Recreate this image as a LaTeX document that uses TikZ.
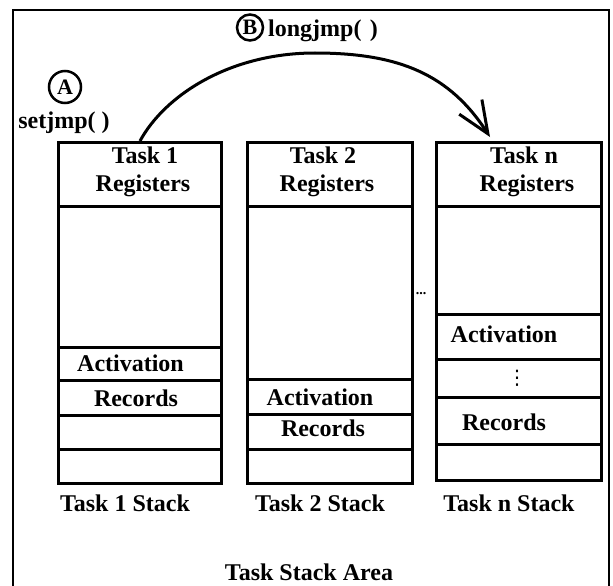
\documentclass[tikz,border=0pt]{standalone}
\usepackage{fontspec}
\setmainfont{Liberation Serif}
\newfontfamily\symfont{DejaVu Sans}
\usetikzlibrary{arrows.meta}
\begin{document}
\begin{tikzpicture}[x=1pt,y=-1pt,
  every node/.style={font=\bfseries\fontsize{24}{28}\selectfont, inner sep=0pt},
  cell/.style={draw, line width=3pt, anchor=north west, minimum width=#1},
  lbl/.style={anchor=base},
  tag/.style={circle, draw, line width=2.5pt, font=\bfseries\fontsize{22}{26}\selectfont},
  jump/.style={line width=3pt, -{Straight Barb[length=32pt,width=27pt,line width=3pt]}}
]
\useasboundingbox (0,0) rectangle (613,586);

% stack area frame
\draw[line width=2.5pt] (13,10) rectangle (609,587);

% Task 1 stack
\node[cell=163pt, minimum height=64pt]  (reg1)  at (57,141) {};
\node[cell=163pt, minimum height=141pt] (free1) at (57,205) {};
\node[cell=163pt, minimum height=33pt]  (act1)  at (57,346) {};
\node[cell=163pt, minimum height=35pt]  (rec1)  at (57,379) {};
\node[cell=163pt, minimum height=34pt]  (e1a)   at (57,414) {};
\node[cell=163pt, minimum height=34pt]  (e1b)   at (57,448) {};

% Task 2 stack
\node[cell=165pt, minimum height=64pt]  (reg2)  at (246,141) {};
\node[cell=165pt, minimum height=173pt] (free2) at (246,205) {};
\node[cell=165pt, minimum height=35pt]  (act2)  at (246,378) {};
\node[cell=165pt, minimum height=35pt]  (rec2)  at (246,413) {};
\node[cell=165pt, minimum height=34pt]  (e2a)   at (246,448) {};

% Task n stack
\node[cell=165pt, minimum height=64pt]  (regn)  at (435,141) {};
\node[cell=165pt, minimum height=108pt] (freen) at (435,205) {};
\node[cell=165pt, minimum height=45pt]  (actn)  at (435,313) {};
\node[cell=165pt, minimum height=38pt]  (dotn)  at (435,358) {};
\node[cell=165pt, minimum height=47pt]  (recn)  at (435,396) {};
\node[cell=165pt, minimum height=36pt]  (ena)   at (435,443) {};

% register headers
\node[lbl] (t1)  at (145,163) {Task 1};
\node[lbl] (r1)  at (143,191) {Registers};
\node[lbl] (t2)  at (323,163) {Task 2};
\node[lbl] (r2)  at (327,191) {Registers};
\node[lbl] (tn)  at (524,163) {Task n};
\node[lbl] (rn)  at (527,191) {Registers};

% activation records
\node[lbl] (a1)  at (130.5,371) {Activation};
\node[lbl] (rc1) at (136,406) {Records};
\node[lbl] (a2)  at (320,405) {Activation};
\node[lbl] (rc2) at (323,436) {Records};
\node[lbl] (an)  at (504,342) {Activation};
\node[font=\symfont\fontsize{20}{24}\selectfont] (vd) at (517,378) {⋮};
\node[lbl] (rcn) at (504,430) {Records};

% gap between stacks
\node[lbl, font=\bfseries\fontsize{14}{16}\selectfont] (gap) at (421,294) {...};

% stack captions
\node[lbl] (s1) at (125,511) {Task 1 Stack};
\node[lbl] (s2) at (320,511) {Task 2 Stack};
\node[lbl] (sn) at (509,511) {Task n Stack};
\node[lbl] (area) at (309,580) {Task Stack Area};

% setjmp / longjmp
\node[tag, minimum size=32pt] (ca) at (65,87) {A};
\node[lbl] (sj) at (64,128) {setjmp( )};
\node[tag, minimum size=26pt] (cb) at (250,27.5) {B};
\node[anchor=base west] (lj) at (268,37) {longjmp(\hspace{0.35em})};

\coordinate (apex) at (315,53);
\coordinate (land) at (490,137);
\draw[jump] (reg1.north) .. controls (165,95) and (230,53) .. (apex)
            .. controls (400,53) and (450,75) .. (land);
\end{tikzpicture}
\end{document}
